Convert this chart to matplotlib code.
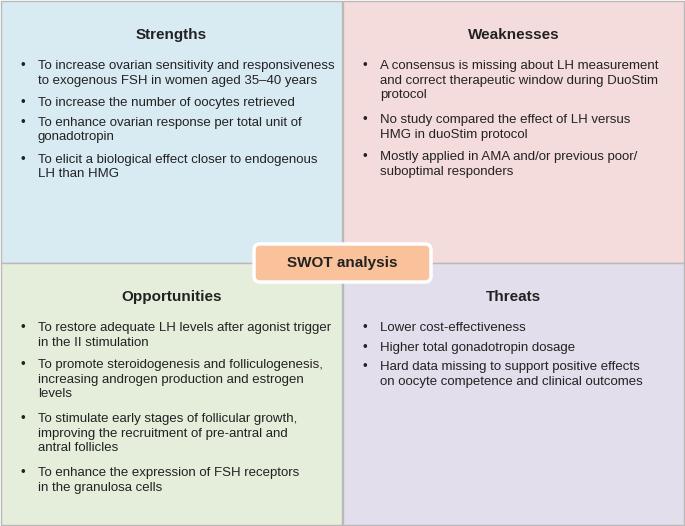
import matplotlib
matplotlib.use("Agg")
import matplotlib.pyplot as plt
from matplotlib.patches import FancyBboxPatch, Rectangle

titles = ["Strengths", "Weaknesses", "Opportunities", "Threats"]
strengths = ["To increase ovarian sensitivity and responsiveness\nto exogenous FSH in women aged 35–40 years",
             "To increase the number of oocytes retrieved",
             "To enhance ovarian response per total unit of\ngonadotropin",
             "To elicit a biological effect closer to endogenous\nLH than HMG"]
weaknesses = ["A consensus is missing about LH measurement\nand correct therapeutic window during DuoStim\nprotocol",
              "No study compared the effect of LH versus\nHMG in duoStim protocol",
              "Mostly applied in AMA and/or previous poor/\nsuboptimal responders"]
opportunities = ["To restore adequate LH levels after agonist trigger\nin the II stimulation",
                 "To promote steroidogenesis and folliculogenesis,\nincreasing androgen production and estrogen\nlevels",
                 "To stimulate early stages of follicular growth,\nimproving the recruitment of pre-antral and\nantral follicles",
                 "To enhance the expression of FSH receptors\nin the granulosa cells"]
threats = ["Lower cost-effectiveness",
           "Higher total gonadotropin dosage",
           "Hard data missing to support positive effects\non oocyte competence and clinical outcomes"]
center_label = "SWOT analysis"

fills = ["#d8ebf3", "#f5dcdc", "#e5eedb", "#e3deeb"]
font = "Liberation Sans"

fig = plt.figure(figsize=(6.85, 5.26), dpi=100)
ax = fig.add_axes([0, 0, 1, 1])
ax.set_xlim(0, 685); ax.set_ylim(526, 0); ax.axis("off")

quads = [(1, 1), (343, 1), (1, 263), (343, 263)]
W, H = 341, 262
items_all = [strengths, weaknesses, opportunities, threats]
for (x0, y0), t, items, c in zip(quads, titles, items_all, fills):
    ax.add_patch(Rectangle((x0, y0), W, H, facecolor=c, edgecolor="#b9b9b9", lw=1))
    ax.text(x0 + W / 2, y0 + 34, t, ha="center", va="center", fontsize=11, fontweight="bold", family=font, color="#222222")
    y = y0 + 59
    for it in items:
        n = it.count("\n") + 1
        ax.text(x0 + 20, y, "•", ha="left", va="top", fontsize=9.5, family=font, color="#222222")
        ax.text(x0 + 37, y, it, ha="left", va="top", fontsize=9.5, family=font, color="#222222", linespacing=1.3)
        y += n * 17.2 + 2.5

ax.add_patch(FancyBboxPatch((254, 244), 177, 38, boxstyle="round,pad=0,rounding_size=6",
                            facecolor="#f9c29a", edgecolor="white", lw=2.5))
ax.text(342.5, 263, center_label, ha="center", va="center", fontsize=11, fontweight="bold", family=font, color="#222222")

fig.savefig("out.png", dpi=100)
